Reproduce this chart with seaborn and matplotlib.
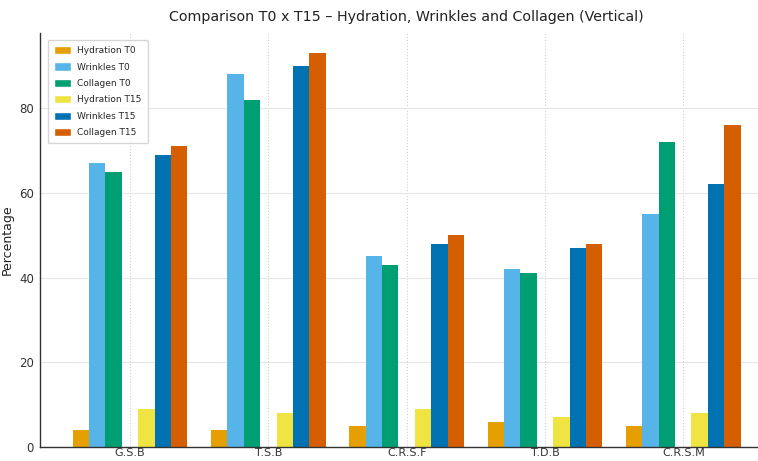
import pandas as pd
import matplotlib
matplotlib.use("Agg")
import matplotlib.pyplot as plt
import seaborn as sns
from matplotlib.patches import Patch

sns.set_theme(style="whitegrid")

# Data
groups = ["G.S.B", "T.S.B", "C.R.S.F", "T.D.B", "C.R.S.M"]
hydration_t0 = [4, 4, 5, 6, 5]
wrinkles_t0 = [67, 88, 45, 42, 55]
collagen_t0 = [65, 82, 43, 41, 72]
hydration_t15 = [9, 8, 9, 7, 8]
wrinkles_t15 = [69, 90, 48, 47, 62]
collagen_t15 = [71, 93, 50, 48, 76]

series = {
    "Hydration T0": hydration_t0,
    "Wrinkles T0": wrinkles_t0,
    "Collagen T0": collagen_t0,
    "Hydration T15": hydration_t15,
    "Wrinkles T15": wrinkles_t15,
    "Collagen T15": collagen_t15,
}
colors = {
    "Hydration T0": "#E69F00",
    "Wrinkles T0": "#56B4E9",
    "Collagen T0": "#009E73",
    " ": "#FFFFFF",
    "Hydration T15": "#F0E442",
    "Wrinkles T15": "#0072B2",
    "Collagen T15": "#D55E00",
}
# empty slot between T0 and T15 bars
hue_order = ["Hydration T0", "Wrinkles T0", "Collagen T0", " ",
             "Hydration T15", "Wrinkles T15", "Collagen T15"]

rows = []
for name, vals in series.items():
    for g, v in zip(groups, vals):
        rows.append({"group": g, "series": name, "value": v})
df = pd.DataFrame(rows)

fig = plt.figure(figsize=(7.58, 4.61), dpi=100)
ax = fig.add_axes([0.053, 0.03, 0.967, 0.898])

sns.barplot(data=df, x="group", y="value", hue="series", hue_order=hue_order,
            order=groups, palette=colors, width=0.83, saturation=1,
            legend=False, linewidth=0, ax=ax)

ax.set_xlim(-0.65, 4.65)
ax.grid(True, color="#e6e6e6", linewidth=0.8)
ax.grid(True, axis="x", linestyle=":", color="#d0d0d0", linewidth=0.8)
ax.set_axisbelow(True)
for s in ["top", "right"]:
    ax.spines[s].set_visible(False)
for s in ["left", "bottom"]:
    ax.spines[s].set_visible(True)
    ax.spines[s].set_color("#333333")
    ax.spines[s].set_linewidth(1.0)
ax.set_facecolor("white")

ax.tick_params(axis="both", colors="#333333", length=3, width=0.8)
ax.tick_params(axis="y", labelsize=8.5, pad=1.5)
ax.tick_params(axis="x", direction="in", pad=0.5, labelsize=8)
ax.set_yticks([0, 20, 40, 60, 80])
ax.set_xlabel("")
ax.set_ylabel("Percentage", fontsize=9, color="#222222", labelpad=3.5)
ax.set_title("Comparison T0 x T15 \u2013 Hydration, Wrinkles and Collagen (Vertical)",
             fontsize=10.3, color="#222222", pad=9)

handles = [Patch(facecolor=colors[k], label=k) for k in series]
ax.legend(handles=handles, loc="upper left", fontsize=6.5, frameon=True,
          borderpad=0.7, labelspacing=0.8, handlelength=1.9, handleheight=1.0,
          handletextpad=0.7, bbox_to_anchor=(0.004, 0.995))

fig.savefig("out.png", dpi=100)
